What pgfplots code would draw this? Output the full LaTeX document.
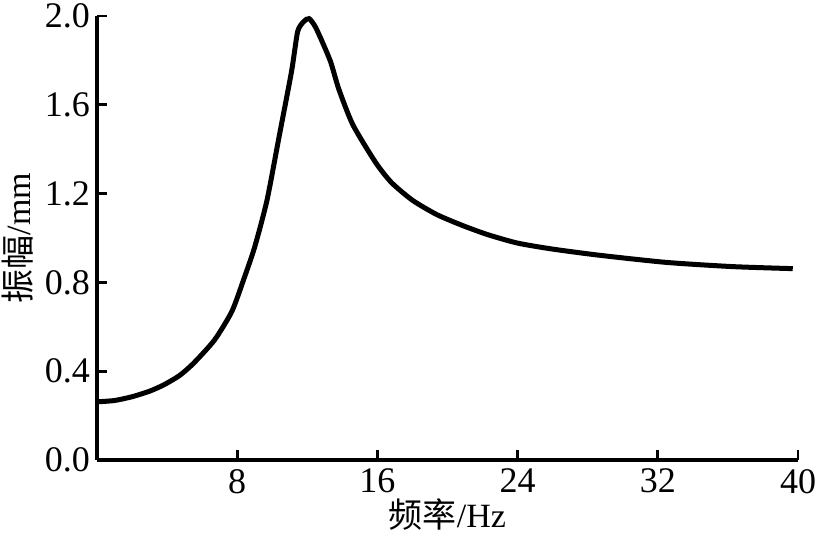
\documentclass[border=0pt]{standalone}
\usepackage{pgfplots}
\pgfplotsset{compat=1.18}
\usepackage{fontspec}
\setmainfont{Liberation Serif}
\newfontfamily\cjk{Noto Sans CJK SC}

\begin{document}
\begin{tikzpicture}
\begin{axis}[
    width=350.5pt, height=222pt,
    scale only axis,
    xmin=0, xmax=40,
    ymin=0, ymax=2.0,
    axis x line*=bottom,
    axis y line*=left,
    axis line style={line width=1.6pt, -},
    xtick={8,16,24,32,40},
    ytick={0,0.4,0.8,1.2,1.6,2.0},
    tick align=inside,
    major tick length=5pt,
    tick style={line width=1.4pt, black},
    yticklabel style={/pgf/number format/.cd, fixed, fixed zerofill, precision=1},
    /pgf/number format/assume math mode=true,
    ticklabel style={font=\fontsize{18}{21}\selectfont},
    xticklabel style={yshift=-1pt},
    label style={font=\fontsize{17}{20}\selectfont},
    xlabel={{\cjk 频率}/Hz},
    ylabel={{\cjk 振幅}/mm},
    xlabel style={at={(axis description cs:0.5,-0.122)}, anchor=center},
    ylabel style={at={(axis description cs:-0.113,0.5)}, anchor=center},
    clip=false,
]
\addplot[black, line width=2.5pt, smooth, tension=0.4] coordinates {
    (0,0.262) (1,0.268) (2,0.285) (3,0.31) (3.8,0.338) (4.7,0.38)
    (5.5,0.435) (6.7,0.54) (7.7,0.67) (8.4,0.82) (9.0,0.96)
    (9.7,1.17) (10.4,1.46) (11.1,1.75) (11.45,1.93) (11.8,1.975)
    (12.1,1.988) (12.5,1.945) (13.3,1.80) (13.8,1.67) (14.6,1.51)
    (15.9,1.34) (16.8,1.25) (18,1.17) (19.4,1.105) (20.9,1.055)
    (22.3,1.015) (24,0.977) (26,0.95) (28.7,0.922) (32.5,0.89)
    (36.3,0.871) (39.7,0.862)
};
\coordinate (bl) at (rel axis cs:0,0);
\coordinate (tr) at (rel axis cs:1,1);
\end{axis}
% page frame close to the reference's margins round the axis
\pgfresetboundingbox
\path ([shift={(-48.5pt,-37pt)}]bl) rectangle ([shift={(8.5pt,8pt)}]tr);
\end{tikzpicture}
\end{document}
